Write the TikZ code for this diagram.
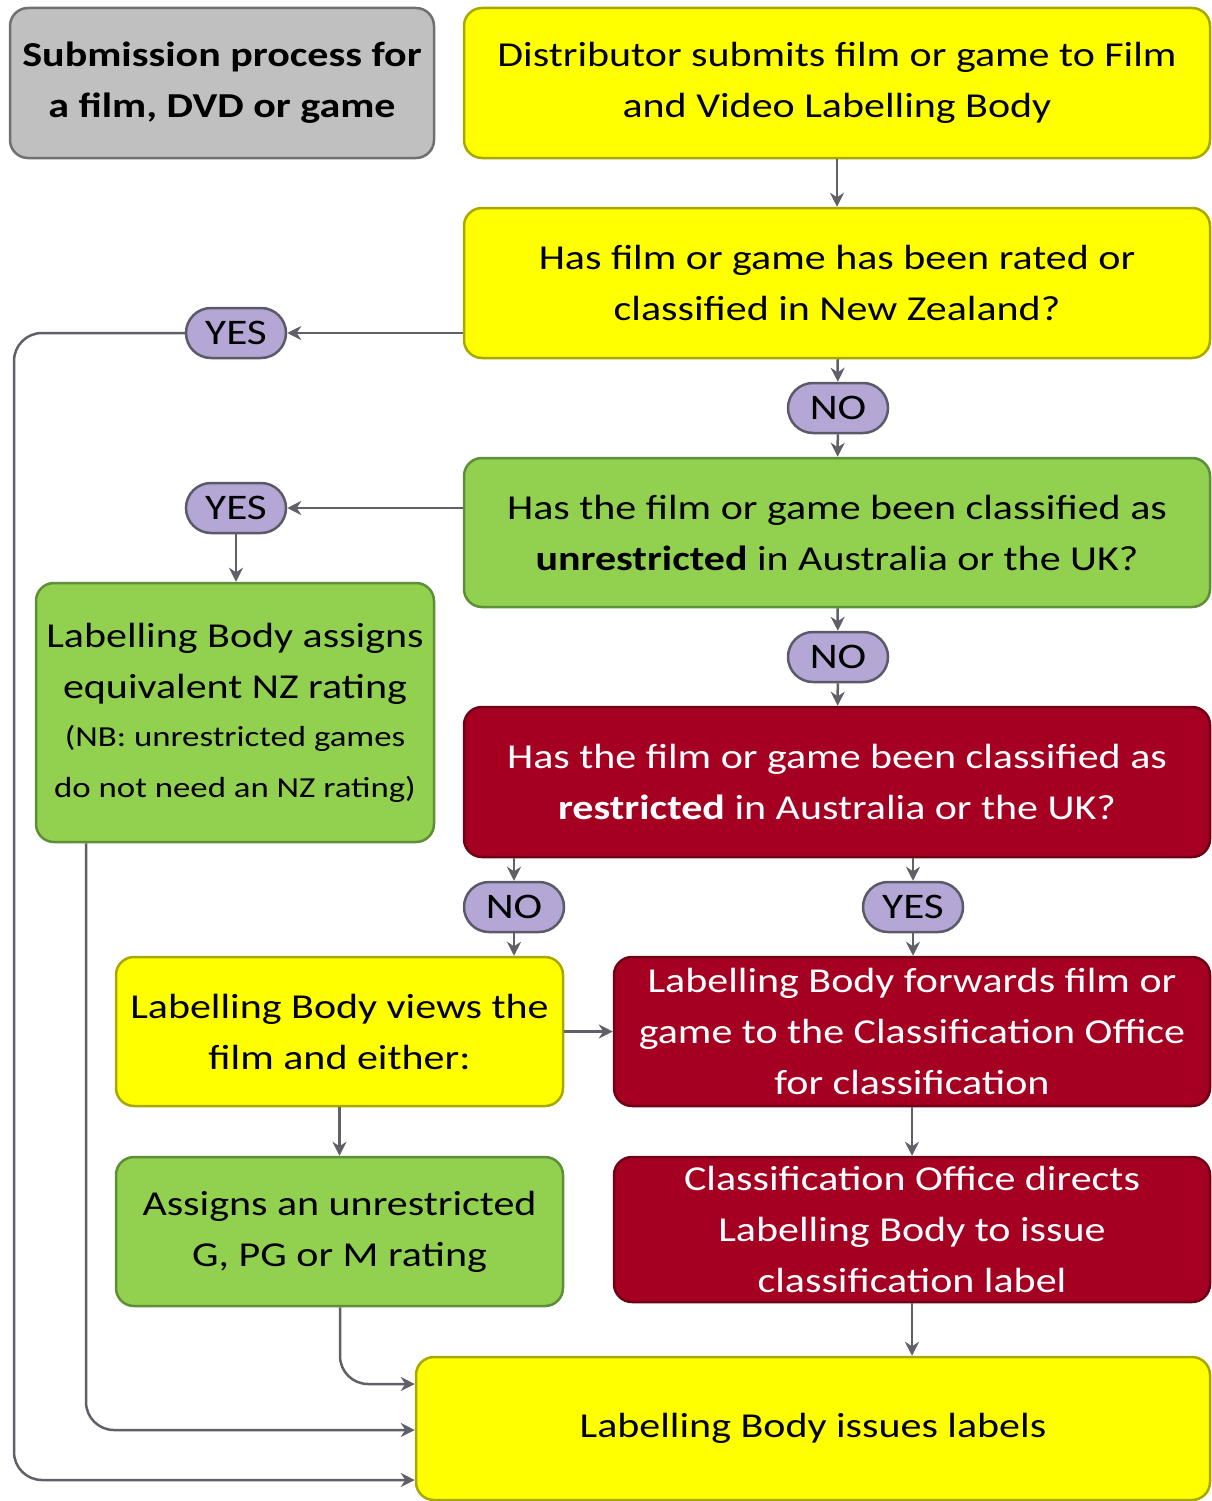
\documentclass[tikz,border=0pt]{standalone}
\usepackage{fontspec}
\setmainfont{Carlito}[FakeStretch=1.2]
\usetikzlibrary{arrows.meta,shapes.misc}
\definecolor{yfill}{HTML}{FFFF00}
\definecolor{yedge}{HTML}{A8A800}
\definecolor{gfill}{HTML}{92D050}
\definecolor{gedge}{HTML}{5E8E36}
\definecolor{rfill}{HTML}{A50021}
\definecolor{redge}{HTML}{700016}
\definecolor{pfill}{HTML}{B4A7D6}
\definecolor{pedge}{HTML}{5A5A68}
\definecolor{tfill}{HTML}{C0C0C0}
\definecolor{tedge}{HTML}{707070}
\definecolor{arrowc}{HTML}{5F6068}
\tikzset{
  box/.style={draw, line width=2.5pt, rounded corners=18pt, align=center,
    font=\fontsize{35}{51}\selectfont, inner sep=0pt},
  ybox/.style={box, fill=yfill, draw=yedge},
  gbox/.style={box, fill=gfill, draw=gedge},
  rbox/.style={box, fill=rfill, draw=redge, text=white},
  tbox/.style={box, fill=tfill, draw=tedge},
  pill/.style={draw=pedge, fill=pfill, line width=2.5pt, rounded rectangle,
    minimum width=100pt, minimum height=50pt, inner sep=0pt,
    font=\fontsize{36}{40}\selectfont},
  conn/.style={draw=arrowc, line width=2.5pt, -{Stealth[length=14pt,width=14pt]}},
}
\begin{document}
\begin{tikzpicture}[x=1pt,y=-1pt]
\useasboundingbox (0,0) rectangle (1212,1501);
\node[tbox, minimum width=424pt, minimum height=150pt] (title) at (222,83)
  {\bfseries Submission process for\\ \bfseries a film, DVD or game};
\node[ybox, minimum width=746pt, minimum height=150pt] (submit) at (837,83)
  {Distributor submits film or game to Film\\ and Video Labelling Body};
\node[ybox, minimum width=746pt, minimum height=150pt] (rated) at (837,283)
  {Has film or game has been rated or\\ classified in New Zealand?};
\node[pill] (yesA) at (236,333) {YES};
\node[pill] (noA) at (838,408) {NO};
\node[gbox, minimum width=746pt, minimum height=149pt] (unres) at (837,532.5)
  {Has the film or game been classified as\\ \textbf{unrestricted} in Australia or the UK?};
\node[pill] (yesB) at (236,508) {YES};
\node[gbox, minimum width=398pt, minimum height=259pt] (equiv) at (235,712.5)
  {Labelling Body assigns\\ equivalent NZ rating\\[-3pt]
   \fontsize{29}{48}\selectfont (NB: unrestricted games\\ \fontsize{29}{48}\selectfont do not need an NZ rating)};
\node[pill] (noB) at (838,657) {NO};
\node[rbox, minimum width=746pt, minimum height=150pt] (restr) at (837,782)
  {Has the film or game been classified as\\ \textbf{restricted} in Australia or the UK?};
\node[pill] (noC) at (514,907) {NO};
\node[pill] (yesC) at (913,907) {YES};
\node[ybox, minimum width=447pt, minimum height=149pt] (views) at (339.5,1031.5)
  {Labelling Body views the\\ film and either:};
\node[rbox, minimum width=596pt, minimum height=149pt] (fwd) at (912,1031.5)
  {Labelling Body forwards film or\\ game to the Classification Office\\ for classification};
\node[gbox, minimum width=447pt, minimum height=149pt] (assigns) at (339.5,1231.5)
  {Assigns an unrestricted\\ G, PG or M rating};
\node[rbox, minimum width=596pt, minimum height=145pt] (directs) at (912,1229.5)
  {Classification Office directs\\ Labelling Body to issue\\ classification label};
\node[ybox, minimum width=794pt, minimum height=143pt] (issues) at (813,1428.5)
  {Labelling Body issues labels};
\coordinate (cA) at (14,1480);
\coordinate (cB) at (86,1430);
\coordinate (cC) at (340,1384);
% connectors
\draw[conn] (submit) -- (rated);
\draw[conn] (yesA -| rated.west) -- (yesA.east);
\draw[conn, rounded corners=28pt] (yesA.west) -| (cA) -- (cA -| issues.west);
\draw[conn] (rated) -- (noA);
\draw[conn] (noA) -- (unres);
\draw[conn] (yesB -| unres.west) -- (yesB.east);
\draw[conn] (yesB.south) -- (yesB |- equiv.north);
\draw[conn] (unres) -- (noB);
\draw[conn] (noB) -- (restr);
\draw[conn] (noC |- restr.south) -- (noC.north);
\draw[conn] (noC.south) -- (noC |- views.north);
\draw[conn] (yesC |- restr.south) -- (yesC.north);
\draw[conn] (yesC.south) -- (yesC |- fwd.north);
\draw[conn] (views.east) -- (fwd.west);
\draw[conn] (views.south) -- (assigns.north);
\draw[conn] (fwd.south) -- (directs.north);
\draw[conn] (directs.south) -- (directs.south |- issues.north);
\draw[conn, rounded corners=28pt] (cB |- equiv.south) -- (cB) -- (cB -| issues.west);
\draw[conn, rounded corners=28pt] (cC |- assigns.south) -- (cC) -- (cC -| issues.west);
\end{tikzpicture}
\end{document}
